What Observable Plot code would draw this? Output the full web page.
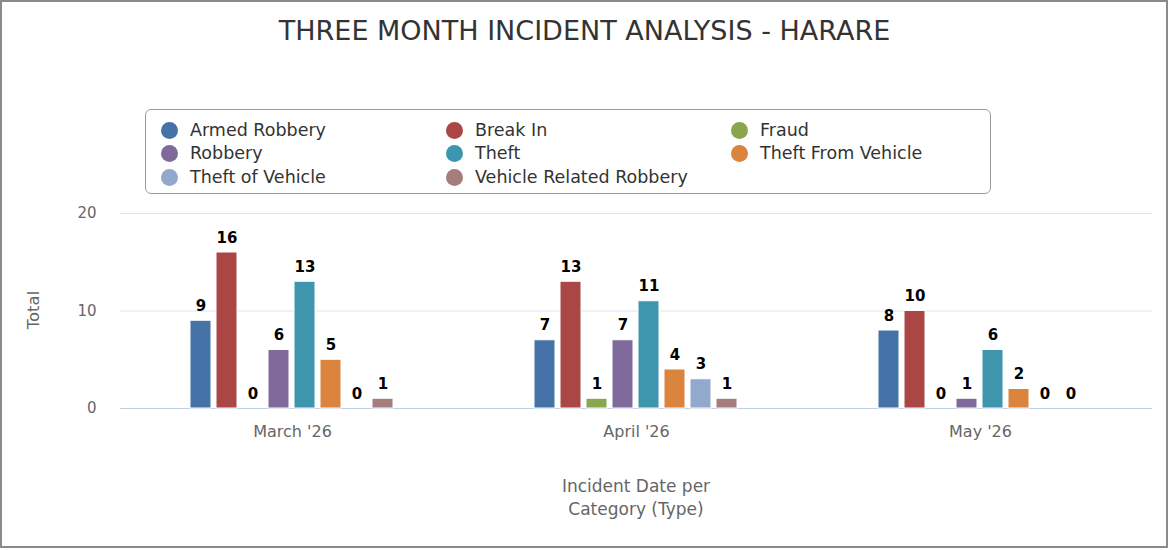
<!DOCTYPE html>
<html>
<head>
<meta charset="utf-8">
<script src="https://cdn.jsdelivr.net/npm/d3@7"></script>
<script src="https://cdn.jsdelivr.net/npm/@observablehq/plot@0.6"></script>
<style>
  html, body { margin: 0; padding: 0; background: #fff; }
  #wrap { position: relative; width: 1169px; height: 550px; overflow: hidden; font-family: "DejaVu Sans", Verdana, sans-serif; }
  #frame { position: absolute; left: 0; top: 0; width: 1168px; height: 548px; border: 2px solid #8a8a8a; box-sizing: border-box; pointer-events: none; }
  #title { position: absolute; left: 0; width: 1169px; top: 15px; text-align: center; font-size: 27px; color: #333; }
  #legend { position: absolute; left: 145px; top: 109px; width: 846px; height: 85px; border: 1px solid #9a9a9a; border-radius: 6px; box-sizing: border-box; }
  .item { position: absolute; font-size: 17.5px; color: #333; white-space: nowrap; line-height: 20px; }
  .dot { position: absolute; width: 17px; height: 17px; border-radius: 50%; left: -29px; top: 2px; }
  #xtitle { position: absolute; left: 386px; width: 500px; top: 475px; text-align: center; font-size: 17px; line-height: 23px; color: #666; }
  #ytitle { position: absolute; left: 33px; top: 310px; transform: translate(-50%, -50%) rotate(-90deg); font-size: 16.5px; color: #666; white-space: nowrap; }
  #chart { position: absolute; left: 0; top: 0; }
</style>
</head>
<body>
<div id="wrap">
  <div id="chart"></div>
  <div id="title"></div>
  <div id="legend"></div>
  <div id="ytitle">Total</div>
  <div id="xtitle">Incident Date per<br>Category (Type)</div>
  <div id="frame"></div>
</div>
<script>
const titleText = "THREE MONTH INCIDENT ANALYSIS - HARARE";
const months = ["March '26", "April '26", "May '26"];
const categories = ["Armed Robbery", "Break In", "Fraud", "Robbery", "Theft", "Theft From Vehicle", "Theft of Vehicle", "Vehicle Related Robbery"];
const colors = ["#4572A7", "#AA4643", "#89A54E", "#80699B", "#3D96AE", "#DB843D", "#92A8CD", "#A47D7C"];
const armedRobbery = [9, 7, 8];
const breakIn = [16, 13, 10];
const fraud = [0, 1, 0];
const robbery = [6, 7, 1];
const theft = [13, 11, 6];
const theftFromVehicle = [5, 4, 2];
const theftOfVehicle = [0, 3, 0];
const vehicleRelatedRobbery = [1, 1, 0];
const yTicks = [0, 10, 20];

const series = [armedRobbery, breakIn, fraud, robbery, theft, theftFromVehicle, theftOfVehicle, vehicleRelatedRobbery];
const data = [];
months.forEach((m, i) => {
  categories.forEach((c, j) => {
    data.push({month: m, category: c, value: series[j][i]});
  });
});

document.getElementById("title").textContent = titleText;

// legend
const legend = document.getElementById("legend");
categories.forEach((c, j) => {
  const col = j % 3, row = Math.floor(j / 3);
  const it = document.createElement("div");
  it.className = "item";
  it.style.left = (44 + col * 285) + "px";
  it.style.top = (9.5 + row * 23.5) + "px";
  const dot = document.createElement("span");
  dot.className = "dot";
  dot.style.background = colors[j];
  it.appendChild(dot);
  it.appendChild(document.createTextNode(c));
  legend.appendChild(it);
});

const chart = Plot.plot({
  width: 1169,
  height: 550,
  marginTop: 213,
  marginBottom: 142,
  marginLeft: 120,
  marginRight: 17,
  style: {fontFamily: "DejaVu Sans, Verdana, sans-serif", background: "transparent"},
  fx: {domain: months, padding: 0, label: null, axis: null},
  x: {domain: categories, paddingInner: 0.18, paddingOuter: 2.7, axis: null},
  y: {domain: [0, 20]},
  color: {domain: categories, range: colors},
  marks: [
    Plot.gridY([10, 20], {stroke: "#e3e3e3", strokeOpacity: 1}),
    Plot.ruleY([0], {stroke: "#c0d0e0", strokeWidth: 1.2}),
    Plot.barY(data, {fx: "month", x: "category", y: "value", fill: "category", stroke: "#fff", strokeWidth: 1}),
    Plot.text(data, {fx: "month", x: "category", y: "value", text: d => String(d.value), lineAnchor: "bottom", dy: -10, fontSize: 15, fontWeight: "bold", fill: "#000"}),
    Plot.axisY({ticks: yTicks, tickSize: 0, tickPadding: 24, fontSize: 15, color: "#666", label: null}),
    Plot.axisFx({anchor: "bottom", tickSize: 0, tickPadding: 17, fontSize: 16, color: "#666", label: null})
  ]
});
document.getElementById("chart").appendChild(chart);
</script>
</body>
</html>
